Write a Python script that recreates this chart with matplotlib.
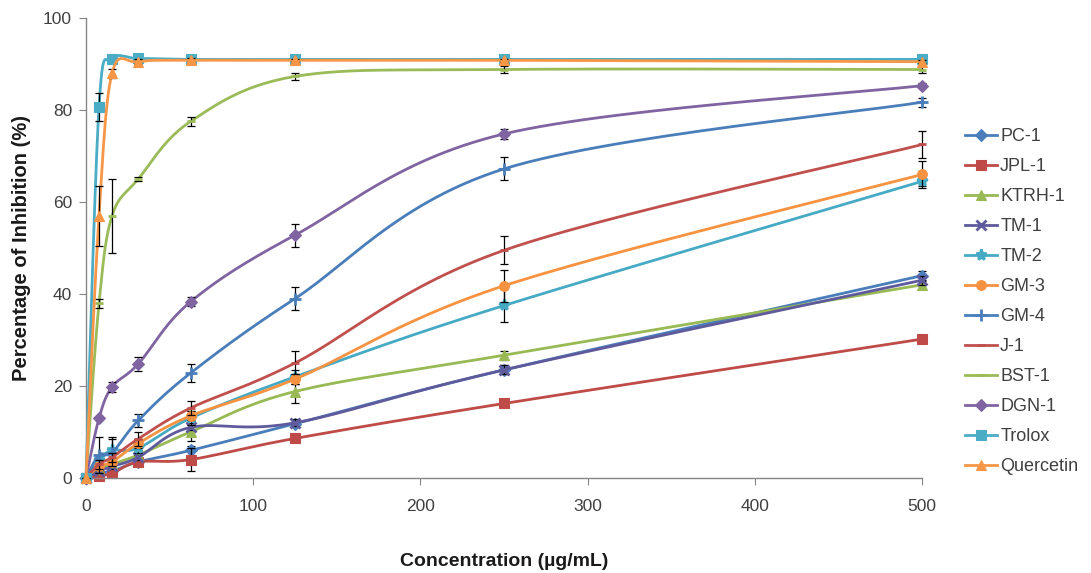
import numpy as np
import matplotlib
matplotlib.use("Agg")
import matplotlib.pyplot as plt
from matplotlib.lines import Line2D

plt.rcParams['font.family'] = ['Liberation Sans', 'DejaVu Sans']

conc = [0, 7.8, 15.6, 31.25, 62.5, 125, 250, 500]

series_names = ["PC-1", "JPL-1", "KTRH-1", "TM-1", "TM-2", "GM-3", "GM-4",
                "J-1", "BST-1", "DGN-1", "Trolox", "Quercetin"]

pc1 = [0, 1.0, 1.5, 3.5, 6.0, 11.8, 23.5, 44.0]
pc1_err = [0, 0.5, 0.5, 0.5, 1.0, 0.8, 1.0, 1.0]
jpl1 = [0, 0.5, 1.0, 3.5, 4.0, 8.6, 16.2, 30.2]
jpl1_err = [0, 0.3, 0.5, 1.0, 2.5, 0.5, 0.5, 0.5]
ktrh1 = [0, 2.0, 3.0, 5.0, 10.0, 18.8, 26.7, 42.0]
ktrh1_err = [0, 0.5, 0.5, 1.0, 2.0, 2.5, 1.0, 0.8]
tm1 = [0, 1.5, 2.5, 4.5, 11.0, 12.0, 23.5, 43.0]
tm1_err = [0, 0.5, 0.5, 0.5, 0.5, 0.8, 1.0, 1.0]
tm2 = [0, 4.0, 6.0, 6.5, 13.0, 22.0, 37.5, 64.5]
tm2_err = [0, 1.0, 3.0, 1.0, 1.5, 1.5, 3.5, 1.0]
gm3 = [0, 2.5, 3.5, 7.5, 13.5, 21.5, 41.8, 66.0]
gm3_err = [0, 0.5, 0.5, 1.0, 1.0, 1.0, 3.5, 3.0]
gm4 = [0, 5.0, 5.5, 12.5, 22.8, 39.0, 67.2, 81.7]
gm4_err = [0, 4.0, 3.0, 1.5, 2.0, 2.5, 2.5, 1.0]
j1 = [0, 3.0, 4.5, 8.5, 15.2, 25.0, 49.5, 72.5]
j1_err = [0, 1.0, 1.0, 1.5, 1.5, 2.5, 3.0, 3.0]
bst1 = [0, 38.0, 57.0, 65.0, 77.5, 87.3, 88.8, 88.8]
bst1_err = [0, 1.0, 8.0, 0.5, 1.0, 0.8, 0.8, 0.8]
dgn1 = [0, 13.0, 19.8, 24.8, 38.3, 52.8, 74.8, 85.3]
dgn1_err = [0, 0.5, 1.0, 1.5, 1.0, 2.5, 1.0, 0.5]
trolox = [0, 80.7, 91.0, 91.2, 91.0, 91.0, 91.0, 91.0]
trolox_err = [0, 3.0, 0.5, 0.5, 0.3, 0.3, 0.3, 0.3]
quercetin = [0, 57.0, 88.0, 90.5, 90.8, 90.8, 90.8, 90.5]
quercetin_err = [0, 6.5, 1.0, 0.5, 0.5, 0.3, 0.3, 0.3]

values = [pc1, jpl1, ktrh1, tm1, tm2, gm3, gm4, j1, bst1, dgn1, trolox, quercetin]
errors = [pc1_err, jpl1_err, ktrh1_err, tm1_err, tm2_err, gm3_err, gm4_err,
          j1_err, bst1_err, dgn1_err, trolox_err, quercetin_err]

colors = ["#4A7EBB", "#BE4B48", "#98B954", "#5F5A9C", "#46AAC5", "#F69240",
          "#4A7EBB", "#C0504D", "#9BBB59", "#8064A2", "#4BACC6", "#F79646"]
markers = ["D", "s", "^", "x", "*", "o", "+", "_", "_", "D", "s", "^"]
msizes = [6, 7, 7, 7, 8, 7, 8, 6, 6, 6, 7, 7]

xticks = [0, 100, 200, 300, 400, 500]
yticks = [0, 20, 40, 60, 80, 100]


def smooth(xs, ys, n=30):
    """Excel-like smoothed line: cubic Bezier segments (Catmull-Rom)."""
    P = np.column_stack([xs, ys]).astype(float)
    out = []
    m = len(P)
    for i in range(m - 1):
        p0 = P[i - 1] if i > 0 else P[i]
        p1 = P[i]
        p2 = P[i + 1]
        p3 = P[i + 2] if i + 2 < m else P[i + 1]
        c1 = p1 + (p2 - p0) / 6.0
        c2 = p2 - (p3 - p1) / 6.0
        t = np.linspace(0, 1, n)[:, None]
        seg = ((1 - t) ** 3) * p1 + 3 * ((1 - t) ** 2) * t * c1 + 3 * (1 - t) * t ** 2 * c2 + t ** 3 * p2
        out.append(seg if i == 0 else seg[1:])
    pts = np.vstack(out)
    return pts[:, 0], pts[:, 1]


fig = plt.figure(figsize=(10.91, 5.73), dpi=100)
ax = fig.add_axes([0.0788, 0.1658, 0.7665, 0.8028])

handles = []
for k, (name, ys, es) in enumerate(zip(series_names, values, errors)):
    c = colors[k]
    sx, sy = smooth(conc, ys)
    ax.plot(sx, sy, color=c, lw=2.0, zorder=2 + k * 0.1, clip_on=False,
            solid_capstyle='round')
    ax.errorbar(conc, ys, yerr=es, fmt='none', ecolor='black', elinewidth=0.9,
                capsize=3, capthick=0.9, zorder=2.05 + k * 0.1, clip_on=False)
    mew = 2 if markers[k] in ("x", "+", "_", "*") else 0.8
    ax.plot(conc, ys, linestyle='none', marker=markers[k], color=c, ms=msizes[k],
            mec=c, mew=mew, zorder=2.08 + k * 0.1, clip_on=False)
    handles.append(Line2D([], [], color=c, lw=2.0, marker=markers[k],
                          ms=msizes[k], mew=mew, mec=c))

ax.set_xlim(0, 500)
ax.set_ylim(0, 100)
ax.set_xticks(xticks)
ax.set_yticks(yticks)
for s in ("top", "right"):
    ax.spines[s].set_visible(False)
for s in ("left", "bottom"):
    ax.spines[s].set_color("#868686")
    ax.spines[s].set_linewidth(1.0)
ax.tick_params(axis='both', colors="#868686", labelcolor="#404040",
               labelsize=12.5, length=5, direction='out')
ax.tick_params(axis='x', pad=10)
ax.tick_params(axis='y', pad=5)

ax.set_xlabel("Concentration (µg/mL)", fontsize=14, fontweight='bold',
              color="#1a1a1a", labelpad=28)
ax.set_ylabel("Percentage of Inhibition (%)", fontsize=14.5, fontweight='bold',
              color="#1a1a1a", labelpad=9)

leg = fig.legend(handles, series_names, loc='upper left',
                 bbox_to_anchor=(0.8845, 0.776), frameon=False,
                 fontsize=13, handlelength=1.8, handletextpad=0.15,
                 labelspacing=0.72, borderaxespad=0, borderpad=0)
for t in leg.get_texts():
    t.set_color("#404040")

fig.savefig("out.png", dpi=100)
